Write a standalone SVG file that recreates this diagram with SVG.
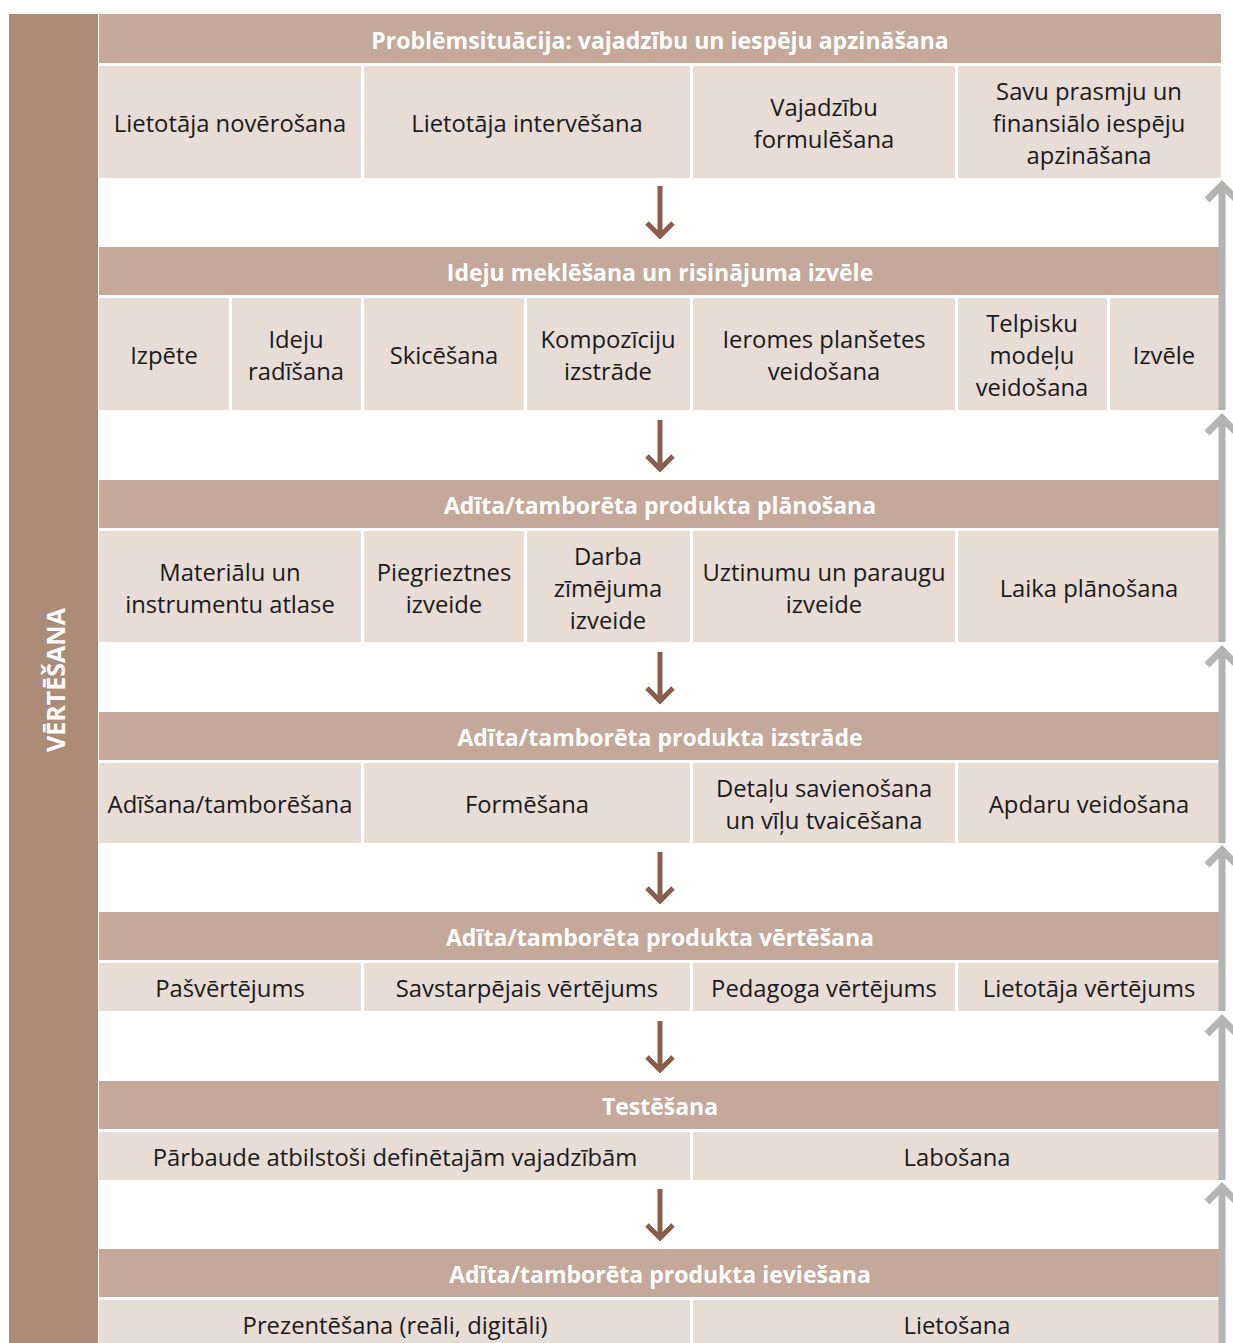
<svg xmlns="http://www.w3.org/2000/svg" width="1233" height="1343" viewBox="0 0 1233 1343">
<style>
.hd{fill:#C4A899}
.cl{fill:#E8DCD7}
.ht{font-family:"Open Sans","Noto Sans",sans-serif;font-weight:bold;font-size:23px;fill:#fff;text-anchor:middle;dominant-baseline:central}
.ct{font-family:"Open Sans","Noto Sans",sans-serif;font-size:23.8px;fill:#1a1a1a;text-anchor:middle;dominant-baseline:central}
.da{stroke:#8B5E4B;stroke-width:5;fill:none}
.ga{stroke:#B3B3B3;stroke-width:7;fill:none}
</style>
<rect width="1233" height="1343" fill="#fff"/>
<g id="side">
<rect x="9" y="14" width="89" height="1329" fill="#AD8B79"/>
<text class="ht" transform="translate(55,680) rotate(-90)" style="font-size:25px">VĒRTĒŠANA</text>
</g>
<g id="band1">
<rect class="hd" x="99" y="14" width="1122" height="49"/>
<text class="ht" x="660" y="40">Problēmsituācija: vajadzību un iespēju apzināšana</text>
<rect class="cl" x="99" y="66" width="262" height="112"/>
<rect class="cl" x="364" y="66" width="326" height="112"/>
<rect class="cl" x="693" y="66" width="262" height="112"/>
<rect class="cl" x="958" y="66" width="263" height="112"/>
<text class="ct" x="230" y="123">Lietotāja novērošana</text>
<text class="ct" x="527" y="123">Lietotāja intervēšana</text>
<text class="ct" x="824" y="107">Vajadzību</text>
<text class="ct" x="824" y="139">formulēšana</text>
<text class="ct" x="1089" y="91">Savu prasmju un</text>
<text class="ct" x="1089" y="123">finansiālo iespēju</text>
<text class="ct" x="1089" y="155">apzināšana</text>
</g>
<g id="band2">
<rect class="hd" x="99" y="247" width="1122" height="48"/>
<text class="ht" x="660" y="272">Ideju meklēšana un risinājuma izvēle</text>
<rect class="cl" x="99" y="298" width="130" height="112"/>
<rect class="cl" x="232" y="298" width="129" height="112"/>
<rect class="cl" x="364" y="298" width="160" height="112"/>
<rect class="cl" x="527" y="298" width="163" height="112"/>
<rect class="cl" x="693" y="298" width="262" height="112"/>
<rect class="cl" x="958" y="298" width="149" height="112"/>
<rect class="cl" x="1110" y="298" width="111" height="112"/>
<text class="ct" x="164" y="355">Izpēte</text>
<text class="ct" x="296" y="339">Ideju</text>
<text class="ct" x="296" y="371">radīšana</text>
<text class="ct" x="444" y="355">Skicēšana</text>
<text class="ct" x="608" y="339">Kompozīciju</text>
<text class="ct" x="608" y="371">izstrāde</text>
<text class="ct" x="824" y="339">Ieromes planšetes</text>
<text class="ct" x="824" y="371">veidošana</text>
<text class="ct" x="1032" y="323">Telpisku</text>
<text class="ct" x="1032" y="355">modeļu</text>
<text class="ct" x="1032" y="387">veidošana</text>
<text class="ct" x="1164" y="355">Izvēle</text>
</g>
<g id="band3">
<rect class="hd" x="99" y="480" width="1122" height="48"/>
<text class="ht" x="660" y="505">Adīta/tamborēta produkta plānošana</text>
<rect class="cl" x="99" y="531" width="262" height="111"/>
<rect class="cl" x="364" y="531" width="160" height="111"/>
<rect class="cl" x="527" y="531" width="163" height="111"/>
<rect class="cl" x="693" y="531" width="262" height="111"/>
<rect class="cl" x="958" y="531" width="263" height="111"/>
<text class="ct" x="230" y="572">Materiālu un</text>
<text class="ct" x="230" y="604">instrumentu atlase</text>
<text class="ct" x="444" y="572">Piegrieztnes</text>
<text class="ct" x="444" y="604">izveide</text>
<text class="ct" x="608" y="556">Darba</text>
<text class="ct" x="608" y="588">zīmējuma</text>
<text class="ct" x="608" y="620">izveide</text>
<text class="ct" x="824" y="572">Uztinumu un paraugu</text>
<text class="ct" x="824" y="604">izveide</text>
<text class="ct" x="1089" y="588">Laika plānošana</text>
</g>
<g id="band4">
<rect class="hd" x="99" y="712" width="1122" height="48"/>
<text class="ht" x="660" y="737">Adīta/tamborēta produkta izstrāde</text>
<rect class="cl" x="99" y="763" width="262" height="80"/>
<rect class="cl" x="364" y="763" width="326" height="80"/>
<rect class="cl" x="693" y="763" width="262" height="80"/>
<rect class="cl" x="958" y="763" width="263" height="80"/>
<text class="ct" x="230" y="804">Adīšana/tamborēšana</text>
<text class="ct" x="527" y="804">Formēšana</text>
<text class="ct" x="824" y="788">Detaļu savienošana</text>
<text class="ct" x="824" y="820">un vīļu tvaicēšana</text>
<text class="ct" x="1089" y="804">Apdaru veidošana</text>
</g>
<g id="band5">
<rect class="hd" x="99" y="912" width="1122" height="48"/>
<text class="ht" x="660" y="937">Adīta/tamborēta produkta vērtēšana</text>
<rect class="cl" x="99" y="963" width="262" height="48"/>
<rect class="cl" x="364" y="963" width="326" height="48"/>
<rect class="cl" x="693" y="963" width="262" height="48"/>
<rect class="cl" x="958" y="963" width="263" height="48"/>
<text class="ct" x="230" y="988">Pašvērtējums</text>
<text class="ct" x="527" y="988">Savstarpējais vērtējums</text>
<text class="ct" x="824" y="988">Pedagoga vērtējums</text>
<text class="ct" x="1089" y="988">Lietotāja vērtējums</text>
</g>
<g id="band6">
<rect class="hd" x="99" y="1081" width="1122" height="48"/>
<text class="ht" x="660" y="1106">Testēšana</text>
<rect class="cl" x="99" y="1132" width="591" height="48"/>
<rect class="cl" x="693" y="1132" width="528" height="48"/>
<text class="ct" x="395" y="1157">Pārbaude atbilstoši definētajām vajadzībām</text>
<text class="ct" x="957" y="1157">Labošana</text>
</g>
<g id="band7">
<rect class="hd" x="99" y="1249" width="1122" height="48"/>
<text class="ht" x="660" y="1274">Adīta/tamborēta produkta ieviešana</text>
<rect class="cl" x="99" y="1300" width="591" height="43"/>
<rect class="cl" x="693" y="1300" width="528" height="43"/>
<text class="ct" x="395" y="1325">Prezentēšana (reāli, digitāli)</text>
<text class="ct" x="957" y="1325">Lietošana</text>
</g>
<g id="connectors">
<path class="da" d="M660 186V236M647 223L660 236L673 223"/>
<path class="da" d="M660 420V469M647 456L660 469L673 456"/>
<path class="da" d="M660 652V701M647 688L660 701L673 688"/>
<path class="da" d="M660 852V901M647 888L660 901L673 888"/>
<path class="da" d="M660 1021V1070M647 1057L660 1070L673 1057"/>
<path class="da" d="M660 1189V1238M647 1225L660 1238L673 1225"/>
<path class="ga" d="M1222 187V410M1207 200L1222 185L1237 200"/>
<path class="ga" d="M1222 420V642M1207 433L1222 418L1237 433"/>
<path class="ga" d="M1222 652V843M1207 665L1222 650L1237 665"/>
<path class="ga" d="M1222 852V1011M1207 865L1222 850L1237 865"/>
<path class="ga" d="M1222 1021V1180M1207 1034L1222 1019L1237 1034"/>
<path class="ga" d="M1222 1189V1343M1207 1202L1222 1187L1237 1202"/>
</g>
</svg>
